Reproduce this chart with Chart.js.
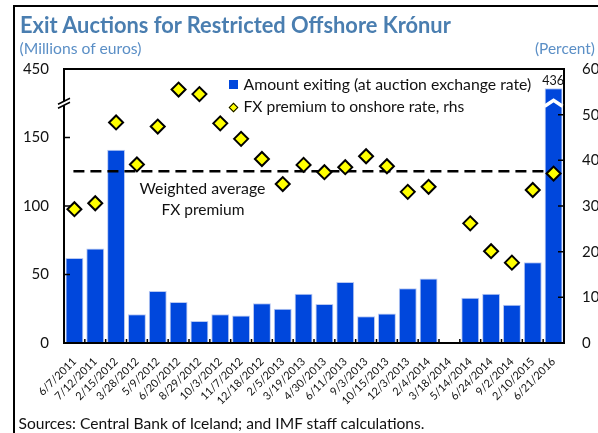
<!DOCTYPE html>
<html><head><meta charset="utf-8">
<script src="https://cdn.jsdelivr.net/npm/chart.js@4.4.0/dist/chart.umd.min.js"></script>
<style>
html,body{margin:0;padding:0;background:#fff;}
body{width:598px;height:433px;position:relative;overflow:hidden;font-family:Lato,"Open Sans",sans-serif;color:#111;}
#frame{position:absolute;left:13px;top:5px;width:620px;height:460px;border-left:2px solid #000;border-top:2px solid #000;}
#c{position:absolute;left:0;top:0;}
.t{position:absolute;white-space:nowrap;font-size:15px;line-height:1;}
.bl{display:inline-block;width:0;height:0;}
#title{font-weight:bold;color:#4a7eb0;font-size:20px;}
.sub{color:#5b8fc6;}
.lg{position:absolute;}
</style></head><body>
<div id="frame"></div>
<canvas id="c" width="598" height="433"></canvas>
<div class="t" id="title">Exit Auctions for Restricted Offshore Krónur<span class="bl"></span></div>
<div class="t sub" id="subL">(Millions of euros)<span class="bl"></span></div>
<div class="t sub" id="subR">(Percent)<span class="bl"></span></div>
<div class="lg" id="lgBar" style="left:229px;top:80px;width:9px;height:9px;background:#0047dc;"></div>
<div class="lg" id="lgDia" style="left:229.5px;top:103.5px;width:5px;height:5px;background:#ffff00;border:1.5px solid #000;transform:rotate(45deg);"></div>
<div class="t" id="lg1">Amount exiting (at auction exchange rate)<span class="bl"></span></div>
<div class="t" id="lg2">FX premium to onshore rate, rhs<span class="bl"></span></div>
<div class="t" id="wa1">Weighted average<span class="bl"></span></div>
<div class="t" id="wa2">FX premium<span class="bl"></span></div>
<div class="t" id="src">Sources: Central Bank of Iceland; and IMF staff calculations.<span class="bl"></span></div>
<script>
// ---- data ----
const categories = ['6/7/2011','7/12/2011','2/15/2012','3/28/2012','5/9/2012','6/20/2012','8/29/2012','10/3/2012','11/7/2012','12/18/2012','2/5/2013','3/19/2013','4/30/2013','6/11/2013','9/3/2013','10/15/2013','12/3/2013','2/4/2014','3/18/2014','5/14/2014','6/24/2014','9/2/2014','2/10/2015','6/21/2016'];
const amounts = [62,69,141,21,38,30,16,21,20,29,25,36,28.5,44.5,19.5,21.5,40,47,null,33,36,28,59,436];
const fxPremium = [29.3,30.6,48.3,39.1,47.4,55.5,54.5,48.1,44.7,40.3,34.8,39.0,37.4,38.5,40.9,38.7,33.1,34.2,null,26.2,20.1,17.6,33.5,37.1];
const weightedAvgPremium = 37.6;
const leftTickValues = [0,50,100,150];
const leftTopTickLabel = '450';
const rightTickValues = [0,10,20,30,40,50,60];

// ---- broken left axis (display units) ----
const LEFT_AXIS_MAX = 200;      // top of axis, labelled 450
const BREAK_THRESHOLD = 150;    // values above are drawn through the break
const BREAK_POS = 175;          // where the break marks sit
const BROKEN_BAR_TOP = 186;     // drawn height of a broken bar
const amountsDisplay = amounts.map(v => v == null ? null : (v > BREAK_THRESHOLD ? BROKEN_BAR_TOP : v));

// ---- text layout ----
function place(id, x, baseline, width, align){
  const el = document.getElementById(id);
  const w0 = el.getBoundingClientRect().width;
  const fs0 = parseFloat(getComputedStyle(el).fontSize);
  el.style.fontSize = (fs0*width/w0)+'px';
  const w = el.getBoundingClientRect().width;
  el.style.left = (align==='center' ? x-w/2 : x)+'px';
  el.style.top = '0px';
  const b = el.querySelector('.bl').getBoundingClientRect().top - el.getBoundingClientRect().top;
  el.style.top = (baseline-b)+'px';
}
place('title',20,33.3,431);
place('subL',19.5,53.5,122);
place('subR',535,53.5,60);
place('lg1',243.5,90.3,288);
place('lg2',243.5,112.3,221);
place('wa1',202.5,194.3,126,'center');
place('wa2',203,215,83,'center');
place('src',18.5,428.5,406);

Chart.defaults.font.family = 'Lato, "Open Sans", sans-serif';
Chart.defaults.color = '#111';

const decor = {
  id:'decor',
  beforeDatasetDraw(chart,args){
    if(args.index!==1) return;
    const ctx=chart.ctx, xs=chart.scales.x, y1=chart.scales.y1;
    const meta=chart.getDatasetMeta(0);
    const last=meta.data[meta.data.length-1];
    const yv=y1.getPixelForValue(weightedAvgPremium);
    ctx.save();
    ctx.setLineDash([11,6]); ctx.lineWidth=2.6; ctx.strokeStyle='#000';
    ctx.beginPath(); ctx.moveTo(xs.getPixelForValue(0)-1,yv); ctx.lineTo(last.x-last.width/2,yv); ctx.stroke();
    ctx.restore();
  },
  afterDraw(chart){
    const ctx=chart.ctx, a=chart.chartArea, xs=chart.scales.x, y=chart.scales.y, y1=chart.scales.y1;
    ctx.save();
    ctx.strokeStyle='#000'; ctx.lineWidth=2;
    ctx.strokeRect(a.left,a.top,a.right-a.left,a.bottom-a.top);
    ctx.lineWidth=1.5;
    ctx.beginPath();
    leftTickValues.forEach(v=>{ if(v>0){const p=y.getPixelForValue(v); ctx.moveTo(a.left,p); ctx.lineTo(a.left+6,p);} });
    rightTickValues.forEach(v=>{ if(v>0&&v<60){const p=y1.getPixelForValue(v); ctx.moveTo(a.right,p); ctx.lineTo(a.right-6,p);} });
    const n=categories.length;
    for(let i=1;i<n;i++){ const px=(xs.getPixelForValue(i-1)+xs.getPixelForValue(i))/2; ctx.moveTo(px,a.bottom); ctx.lineTo(px,a.bottom-4); }
    ctx.stroke();
    // left axis break
    const yb=y.getPixelForValue(BREAK_POS);
    ctx.fillStyle='#fff'; ctx.fillRect(a.left-2,yb-2,4,4);
    ctx.lineWidth=1.4; ctx.beginPath();
    ctx.moveTo(a.left-6,yb+1); ctx.lineTo(a.left+6,yb-5);
    ctx.moveTo(a.left-6,yb+5); ctx.lineTo(a.left+6,yb-1);
    ctx.stroke();
    // broken bar chevron and value label
    const meta=chart.getDatasetMeta(0);
    amounts.forEach((v,i)=>{
      if(v==null||v<=BREAK_THRESHOLD) return;
      const bar=meta.data[i];
      const l=bar.x-bar.width/2, r=bar.x+bar.width/2;
      ctx.strokeStyle='#fff'; ctx.lineWidth=3.5; ctx.lineJoin='miter';
      ctx.beginPath(); ctx.moveTo(l,yb+3); ctx.lineTo(bar.x,yb-3); ctx.lineTo(r,yb+3); ctx.stroke();
      ctx.fillStyle='#111'; ctx.font='12.5px Lato, "Open Sans", sans-serif';
      ctx.textAlign='center'; ctx.textBaseline='alphabetic';
      ctx.fillText(String(v),bar.x-0.5,bar.y-3);
    });
    ctx.restore();
  }
};

new Chart(document.getElementById('c'),{
  data:{
    labels:categories,
    datasets:[
      {type:'bar',label:'Amount exiting (at auction exchange rate)',data:amountsDisplay,yAxisID:'y',order:2,
       backgroundColor:'#0047dc',borderColor:'#b9c9f2',borderWidth:{top:1,left:1,right:1,bottom:0},borderSkipped:false,
       barPercentage:0.86,categoryPercentage:1},
      {type:'line',label:'FX premium to onshore rate, rhs',data:fxPremium,yAxisID:'y1',order:1,showLine:false,
       pointStyle:'rectRot',pointRadius:7,pointBackgroundColor:'#ffff00',pointBorderColor:'#000',pointBorderWidth:2}
    ]
  },
  options:{
    responsive:false,animation:false,
    layout:{padding:{top:69,left:0,right:0,bottom:0}},
    plugins:{legend:{display:false},tooltip:{enabled:false}},
    scales:{
      x:{offset:true,grid:{display:false,drawTicks:false},border:{display:false},
         ticks:{autoSkip:false,maxRotation:45,minRotation:45,padding:12,font:{size:11},color:'#111'},
         afterFit:s=>{s.height=90;}},
      y:{position:'left',min:0,max:LEFT_AXIS_MAX,grid:{display:false,drawTicks:false},border:{display:false},
         afterBuildTicks:s=>{s.ticks=leftTickValues.concat([LEFT_AXIS_MAX]).map(v=>({value:v}));},
         ticks:{padding:15,font:{size:15},color:'#111',callback:v=>v===LEFT_AXIS_MAX?leftTopTickLabel:String(v)},
         afterFit:s=>{s.width=64;}},
      y1:{position:'right',min:0,max:60,grid:{display:false,drawTicks:false},border:{display:false},
         afterBuildTicks:s=>{s.ticks=rightTickValues.map(v=>({value:v}));},
         ticks:{padding:18,font:{size:15},color:'#111'},
         afterFit:s=>{s.width=34;}}
    }
  },
  plugins:[decor]
});
</script>
</body></html>
